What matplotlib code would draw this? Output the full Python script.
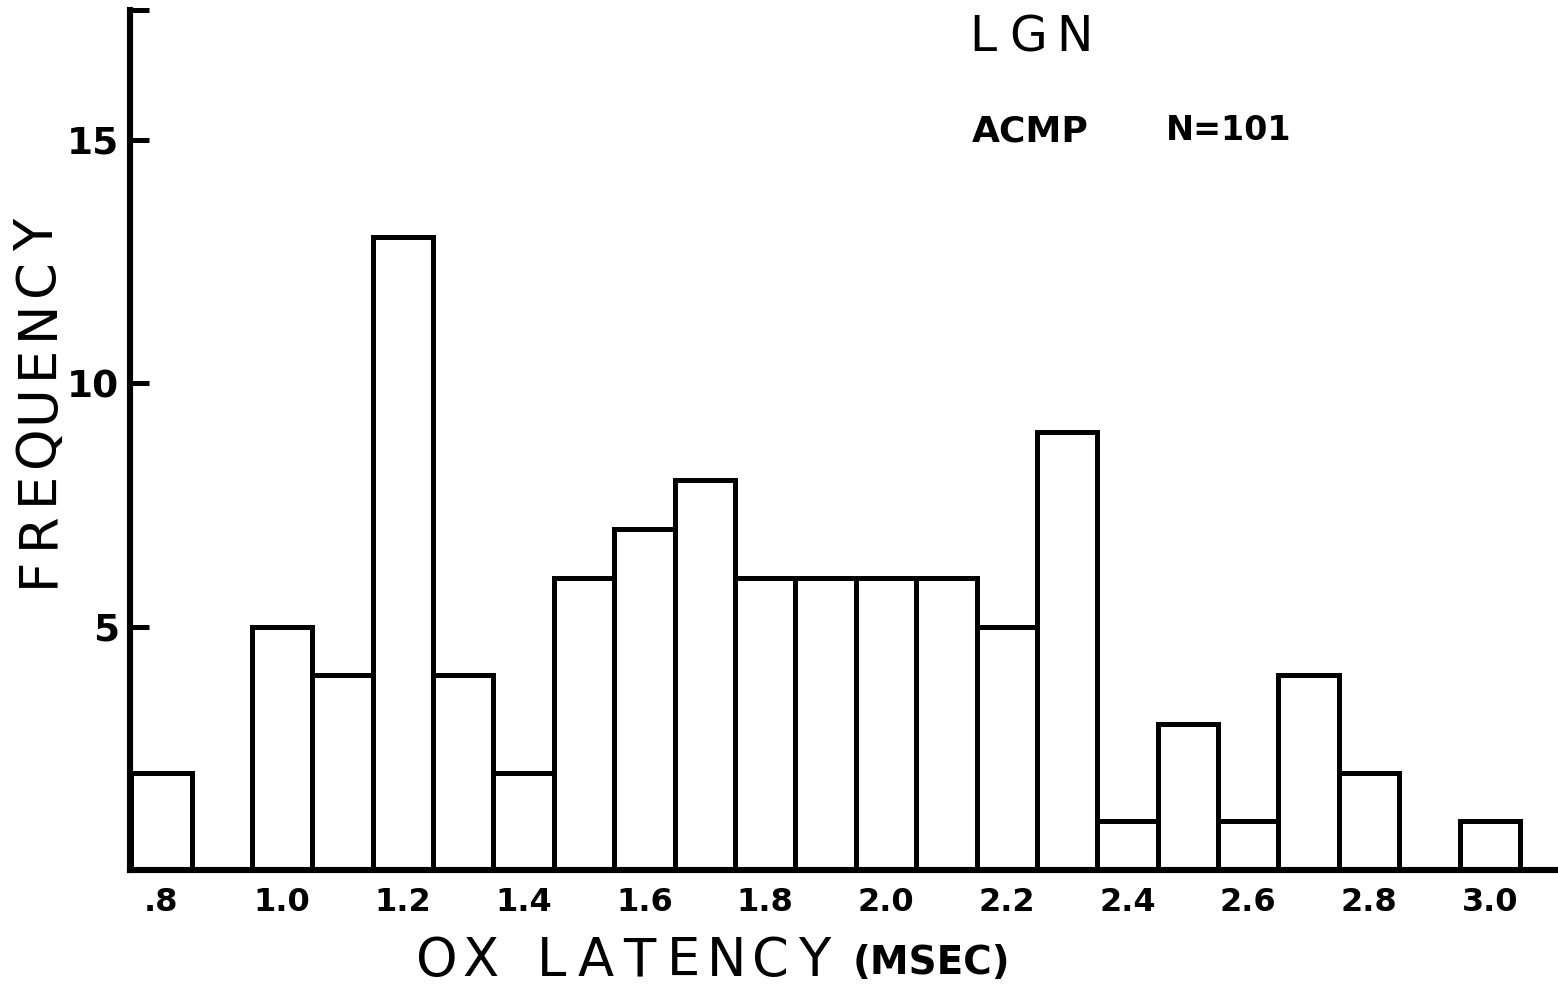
import numpy as np
import matplotlib
matplotlib.use("Agg")
import matplotlib.pyplot as plt

# bin centres (msec) and counts
latency = [0.8, 0.9, 1.0, 1.1, 1.2, 1.3, 1.4, 1.5, 1.6, 1.7, 1.8, 1.9,
           2.0, 2.1, 2.2, 2.3, 2.4, 2.5, 2.6, 2.7, 2.8, 2.9, 3.0]
counts = [2, 0, 5, 4, 13, 4, 2, 6, 7, 8, 6, 6,
          6, 6, 5, 9, 1, 3, 1, 4, 2, 0, 1]
xtick_vals = [0.8, 1.0, 1.2, 1.4, 1.6, 1.8, 2.0, 2.2, 2.4, 2.6, 2.8, 3.0]
xtick_labels = [".8", "1.0", "1.2", "1.4", "1.6", "1.8", "2.0",
                "2.2", "2.4", "2.6", "2.8", "3.0"]
ytick_vals = [5, 10, 15]

W, H = 1558, 996
YTOP = 17.66
LW = 3.6


def lettered(fig, word, x0, y0, step, vertical=False, **kw):
    """hand-lettered look: one glyph per text, evenly spaced (pixels)."""
    pos = 0.0
    for ch in word:
        if ch == " ":
            pos += step * 0.6
            continue
        if vertical:
            fig.text(x0 / W, 1 - (y0 - pos) / H, ch, rotation=90,
                     ha="center", va="center", **kw)
        else:
            fig.text((x0 + pos) / W, 1 - y0 / H, ch,
                     ha="center", va="center", **kw)
        pos += step


fig = plt.figure(figsize=(W / 100, H / 100), dpi=100)
ax = fig.add_axes([130 / W, 126 / H, 1 - 130 / W, (870 - 10) / H])

ax.bar(latency, counts, width=0.1, facecolor="white", edgecolor="black",
       linewidth=LW, align="center", zorder=2)
ax.set_xlim(0.748, 3.113)
ax.set_ylim(0, YTOP)

for s in ("top", "right"):
    ax.spines[s].set_visible(False)
for s in ("left", "bottom"):
    ax.spines[s].set_linewidth(LW + 0.8)
    ax.spines[s].set_zorder(3)

ax.set_xticks(xtick_vals)
ax.set_xticklabels(xtick_labels, fontsize=23, fontweight="bold")
ax.tick_params(axis="x", length=0, pad=12)
# small inward hook at the top of the axis is drawn as an extra tick
ax.set_yticks(ytick_vals + [YTOP])
ax.set_yticklabels([str(v) for v in ytick_vals] + [""], fontsize=27,
                   fontweight="bold")
ax.tick_params(axis="y", direction="in", length=14, width=LW, pad=8)

lettered(fig, "FREQUENCY", 38, 572, 42.1, vertical=True, fontsize=38)
lettered(fig, "OX", 437, 961, 43, fontsize=38)
lettered(fig, "LATENCY", 552, 961, 43.7, fontsize=38)
fig.text(1010 / W, 1 - 963 / H, "(MSEC)", fontsize=28,
         fontweight="bold", ha="right", va="center")
lettered(fig, "LGN", 983, 37, 45.5, fontsize=35)
fig.text(972 / W, 1 - 131 / H, "ACMP", fontsize=26, fontweight="bold",
         ha="left", va="center")
fig.text(1166 / W, 1 - 131 / H, "N=101", fontsize=24,
         fontweight="bold", ha="left", va="center")

fig.savefig("out.png", dpi=100, facecolor="white")
